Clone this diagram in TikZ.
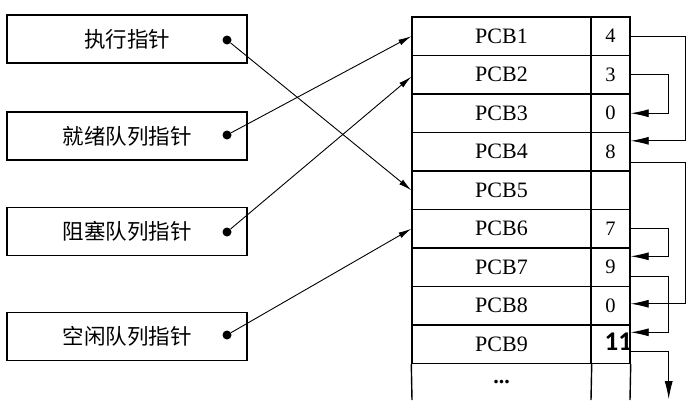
\documentclass[tikz,border=0pt]{standalone}
\usepackage{fontspec}
\setmainfont{Liberation Serif}
\newfontfamily\cjkfont{Noto Sans CJK SC}
\newfontfamily\calfont{Carlito}
\usetikzlibrary{arrows.meta,calc}
\begin{document}
\begin{tikzpicture}[x=1pt,y=-1pt,
 ptrbox/.style={draw, line width=1.6pt, minimum width=240pt, minimum height=48pt, inner sep=0pt, font=\cjkfont\fontsize{21.5}{25}\selectfont},
 pcbcell/.style={draw, line width=1.4pt, minimum width=179pt, minimum height=38.5pt, inner sep=0pt, font=\fontsize{22}{26}\selectfont},
 valcell/.style={draw, line width=1.4pt, minimum width=39pt, minimum height=38.5pt, inner sep=0pt, font=\fontsize{20.5}{24}\selectfont},
 ptrdot/.style={circle, fill, inner sep=0pt, minimum size=9pt},
 ptrlink/.style={line width=0.9pt, -{Latex[length=13pt,width=6pt]}},
 nextlink/.style={line width=0.9pt, -{Latex[length=18pt,width=8pt]}},
 tableline/.style={line width=1.4pt},
]
\useasboundingbox (0,0) rectangle (688,407);

% pointer boxes
\node[ptrbox] (b1) at (127,39) {执行指针};
\node[ptrbox] (b2) at (127,136) {就绪队列指针};
\node[ptrbox] (b3) at (127,231.5) {阻塞队列指针};
\node[ptrbox] (b4) at (127,336.5) {空闲队列指针};
\node[ptrdot] (d1) at (227,40) {};
\node[ptrdot] (d2) at (227,135) {};
\node[ptrdot] (d3) at (227,232) {};
\node[ptrdot] (d4) at (227,335) {};

% PCB table
\foreach \i/\v in {1/4,2/3,3/0,4/8,5/{},6/7,7/9,8/0,9/{}} {
  \node[pcbcell] (pcb\i) at (501.5,{17+38.5*(\i-0.5)}) {PCB\i};
  \node[valcell] (val\i) at (610.5,{17+38.5*(\i-0.5)}) {\v};
}
\node[anchor=base east, inner sep=0pt, font=\calfont\bfseries\fontsize{27}{30}\selectfont] (eleven) at ($(val9.east)+(1.5,6)$) {11};

% last open row
\coordinate (e1) at (412,400);
\coordinate (e2) at (591,400);
\coordinate (e3) at (630,400);
\draw[tableline] (pcb9.south west) -- (e1);
\draw[tableline] (pcb9.south east) -- (e2);
\draw[tableline] (val9.south east) -- (e3);
\node[anchor=base, inner sep=0pt, font=\bfseries\fontsize{22}{26}\selectfont] (dots) at (501.5,383) {...};

% pointers to table
\draw[ptrlink] (d1) -- (pcb5.west);
\draw[ptrlink] (d2) -- (pcb1.west);
\draw[ptrlink] (d3) -- ($(pcb2.west)+(0,2)$);
\draw[ptrlink] (d4) -- (pcb6.west);

% next links
\draw[nextlink] (val1.east) -- ++(55,0) |- ($(val4.north east)+(0,9)$);
\draw[nextlink] (val2.east) -- ++(38,0) |- (val3.east);
\draw[nextlink] ($(val4.south east)+(0,-9)$) -- ++(55,0) |- ($(val8.east)+(0,-2)$);
\draw[nextlink] (val6.east) -- ++(38,0) |- ($(val7.north east)+(0,9)$);
\draw[nextlink] ($(val7.south east)+(0,-11)$) -- ++(38,0) |- ($(val9.north east)+(0,8)$);
\draw[nextlink] ($(val9.south east)+(0,-13)$) -- ++(38,0) -- ++(0,48);
\end{tikzpicture}
\end{document}
